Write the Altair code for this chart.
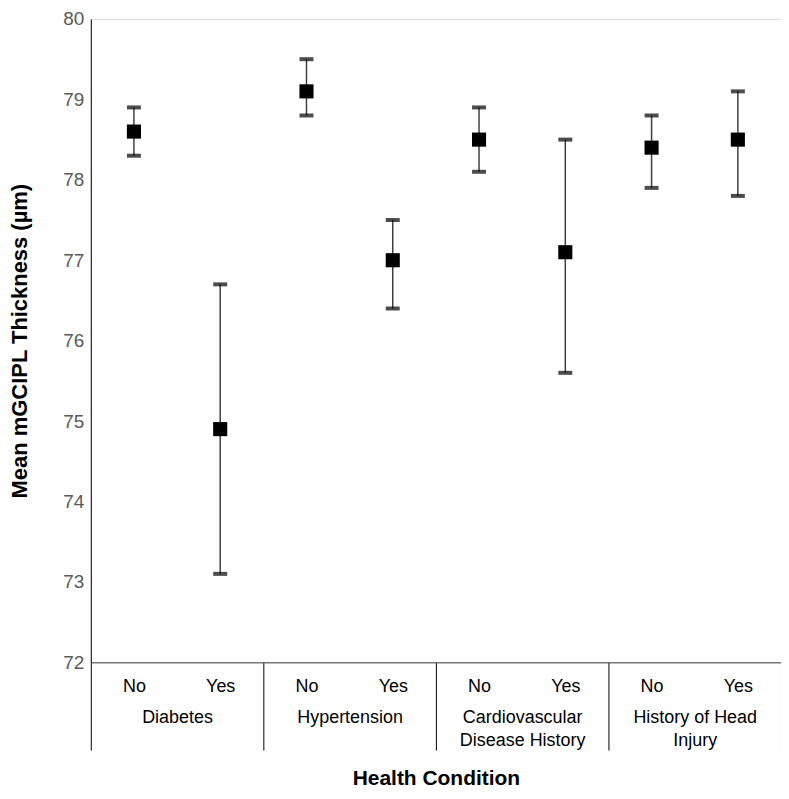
import altair as alt
import pandas as pd

conditions = ["Diabetes", "Diabetes", "Hypertension", "Hypertension",
              "Cardiovascular Disease History", "Cardiovascular Disease History",
              "History of Head Injury", "History of Head Injury"]
answers = ["No", "Yes", "No", "Yes", "No", "Yes", "No", "Yes"]
means = [78.6, 74.9, 79.1, 77.0, 78.5, 77.1, 78.4, 78.5]
lower = [78.3, 73.1, 78.8, 76.4, 78.1, 75.6, 77.9, 77.8]
upper = [78.9, 76.7, 79.5, 77.5, 78.9, 78.5, 78.8, 79.1]
group_lines = [["Diabetes"], ["Hypertension"],
               ["Cardiovascular", "Disease History"], ["History of Head", "Injury"]]
y_ticks = [72, 73, 74, 75, 76, 77, 78, 79, 80]

df = pd.DataFrame({
    "condition": conditions,
    "answer": answers,
    "pos": [i + 0.5 for i in range(len(means))],
    "mean": means,
    "lo": lower,
    "hi": upper,
})

FONT = "Liberation Sans"
xscale = alt.Scale(domain=[0, len(means)], nice=False, zero=False)
yscale = alt.Scale(domain=[72, 80], nice=False, zero=False)
yaxis = alt.Axis(values=y_ticks, grid=False, ticks=False, domainColor="#000000",
                 labelFontSize=19, labelColor="#595959", labelPadding=7, labelFont=FONT,
                 title="Mean mGCIPL Thickness (µm)", titleFontSize=22, titleFont=FONT,
                 titleFontWeight="bold", titleColor="#000000", titlePadding=31)

base = alt.Chart(df)

# separator axis (long ticks at group boundaries)
rules = base.mark_rule(color="#404040", strokeWidth=1.5).encode(
    x=alt.X("pos:Q", scale=xscale,
            axis=alt.Axis(values=[0, 2, 4, 6, 8], orient="bottom", labels=False,
                          tickSize=88, tickColor="#000000", tickWidth=1,
                          domainColor="#404040", grid=False, title=None)),
    y=alt.Y("lo:Q", scale=yscale, axis=yaxis),
    y2="hi:Q",
)

caps = base.transform_fold(["lo", "hi"], as_=["k", "v"]).mark_tick(
    color="#000000", thickness=4, size=14, orient="horizontal"
).encode(
    x=alt.X("pos:Q", scale=xscale,
            axis=alt.Axis(values=[i + 0.5 for i in range(8)], orient="bottom",
                          ticks=False, domain=False, grid=False, labelOverlap=False,
                          labelFlush=False,
                          labelExpr="floor(datum.value) % 2 == 0 ? 'No' : 'Yes'",
                          labelFontSize=18, labelColor="#000000", labelFont=FONT,
                          labelPadding=15, title=None)),
    y=alt.Y("v:Q", scale=yscale, axis=yaxis),
)

expr_arr = "[" + ",".join("[" + ",".join("'" + s + "'" for s in g) + "]" for g in group_lines) + "]"

points = base.mark_square(color="#000000", size=200, opacity=1).encode(
    x=alt.X("pos:Q", scale=xscale,
            axis=alt.Axis(values=[1, 3, 5, 7], orient="bottom", ticks=False, domain=False,
                          grid=False, labelOverlap=False, labelFlush=False,
                          labelExpr=expr_arr + "[floor(datum.value / 2)]",
                          labelFontSize=18, labelColor="#000000", labelFont=FONT,
                          labelPadding=46, labelLineHeight=23, labelBaseline="top",
                          title="Health Condition", titleFontSize=21, titleFont=FONT,
                          titleFontWeight="bold", titleColor="#000000", titlePadding=18)),
    y=alt.Y("mean:Q", scale=yscale, axis=yaxis),
)

chart = alt.layer(rules, caps, points).resolve_axis(x="independent").properties(
    width=692, height=645,
    padding={"left": 83, "top": 10, "right": 0, "bottom": 128},
    autosize=alt.AutoSizeParams(type="none"),
).configure_view(stroke=None).configure(font=FONT)

chart.save("out.html", embed_options={"renderer": "svg", "actions": False})
